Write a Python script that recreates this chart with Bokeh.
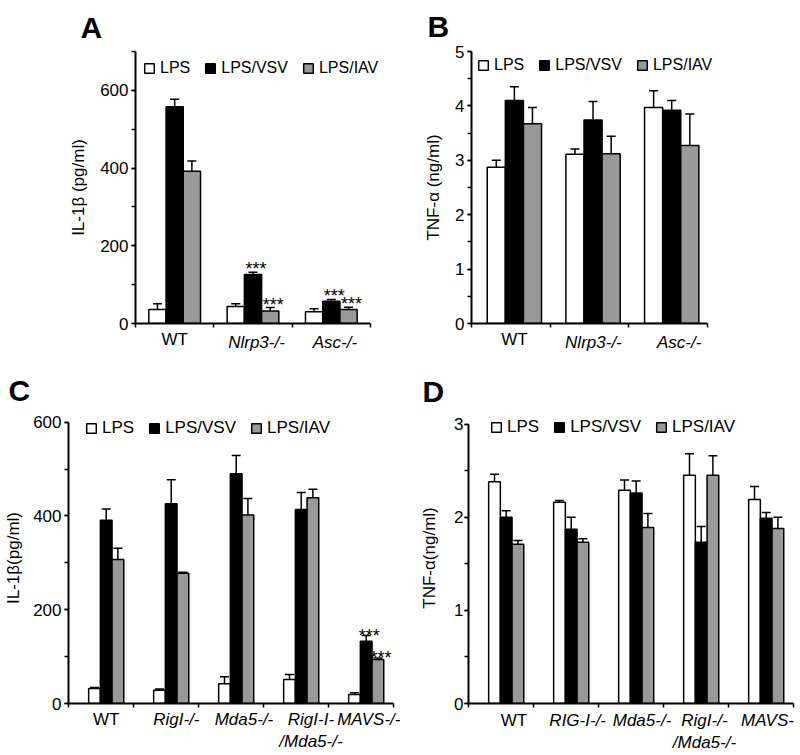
from bokeh.plotting import figure
from bokeh.models import (ColumnDataSource, Whisker, TeeHead, FixedTicker, LinearAxis,
                          SingleIntervalTicker, CustomJSTickFormatter, Range1d)
from bokeh.layouts import column, row
from bokeh.embed import file_html
from bokeh.resources import INLINE

FONT = "Liberation Sans"
SERIES = ["LPS", "LPS/VSV", "LPS/IAV"]
COLORS = ["#ffffff", "#000000", "#999999"]

# ---------------- data ----------------
A_groups = ["WT", "Nlrp3-/-", "Asc-/-"]
A_style = ["normal", "italic", "italic"]
A_lps = [36, 44, 30]
A_lps_err = [15, 7, 8]
A_vsv = [558, 126, 57]
A_vsv_err = [19, 6, 5]
A_iav = [392, 32, 36]
A_iav_err = [26, 9, 6]
A_stars = [(1, 1), (1, 2), (2, 1), (2, 2)]

B_groups = ["WT", "Nlrp3-/-", "Asc-/-"]
B_style = ["normal", "italic", "italic"]
B_lps = [2.87, 3.11, 3.97]
B_lps_err = [0.13, 0.10, 0.31]
B_vsv = [4.10, 3.74, 3.92]
B_vsv_err = [0.25, 0.34, 0.18]
B_iav = [3.67, 3.12, 3.27]
B_iav_err = [0.30, 0.32, 0.58]
B_stars = []

C_groups = ["WT", "RigI-/-", "Mda5-/-", "RigI-I-\n/Mda5-/-", "MAVS-/-"]
C_style = ["normal", "italic", "italic", "italic", "italic"]
C_lps = [32, 28, 42, 51, 19]
C_lps_err = [2, 3, 15, 11, 4]
C_vsv = [391, 426, 490, 414, 133]
C_vsv_err = [24, 51, 39, 36, 12]
C_iav = [307, 278, 402, 439, 94]
C_iav_err = [24, 2, 35, 18, 3]
C_stars = [(4, 1), (4, 2)]

D_groups = ["WT", "RIG-I-/-", "Mda5-/-", "RigI-/-\n/Mda5-/-", "MAVS-"]
D_style = ["normal", "italic", "italic", "italic", "italic"]
D_lps = [2.38, 2.16, 2.29, 2.45, 2.19]
D_lps_err = [0.08, 0.02, 0.11, 0.23, 0.14]
D_vsv = [2.00, 1.87, 2.26, 1.73, 1.99]
D_vsv_err = [0.07, 0.13, 0.13, 0.17, 0.06]
D_iav = [1.71, 1.73, 1.89, 2.45, 1.88]
D_iav_err = [0.04, 0.04, 0.15, 0.21, 0.12]
D_stars = []


def panel(letter, groups, styles, vals, errs, stars, ylabel, ymax, major, *,
          width, height, frame, axis_top, xstart, x_unit, bar_w, bar_shift,
          label_shift, letter_offset, letter_standoff, letter_valign,
          ylabel_standoff, ytick_standoff, legend_loc, legend_font,
          cat_standoff, wt_standoff, star_offset):
    fl, fr, ft, fb = frame
    n = len(groups)
    xend = xstart + (fr - fl) / x_unit
    yend = ymax * (fb - ft) / (fb - axis_top)
    p = figure(width=width, height=height, output_backend="svg", toolbar_location=None,
               x_range=Range1d(xstart, xend), y_range=Range1d(0, yend),
               min_border_left=fl, min_border_right=width - fr,
               min_border_top=ft, min_border_bottom=height - fb)
    p.outline_line_color = None
    p.grid.visible = False
    p.background_fill_color = "white"
    p.border_fill_color = "white"

    # panel letter as title
    p.title.text = letter
    p.title.text_font = FONT
    p.title.text_font_size = "30px"
    p.title.text_font_style = "bold"
    p.title.vertical_align = letter_valign
    p.title.align = "left"
    p.title.offset = letter_offset
    p.title.standoff = letter_standoff
    p.title.text_color = "black"

    # y axis
    ya = p.yaxis[0]
    ya.ticker = SingleIntervalTicker(interval=major, num_minor_ticks=2)
    ya.bounds = (0, ymax)
    ya.axis_line_width = 2
    ya.major_tick_line_width = 1.5
    ya.minor_tick_line_width = 1.5
    ya.major_tick_in = 0
    ya.major_tick_out = 4
    ya.minor_tick_in = 0
    ya.minor_tick_out = 4
    ya.major_label_standoff = ytick_standoff
    ya.major_label_text_font = FONT
    ya.major_label_text_font_size = "17px"
    ya.major_label_text_color = "black"
    ya.axis_label = ylabel
    ya.axis_label_text_font = FONT
    ya.axis_label_text_font_size = "17px"
    ya.axis_label_text_font_style = "normal"
    ya.axis_label_text_color = "black"
    ya.axis_label_standoff = ylabel_standoff

    # x axis: boundary ticks + italic category names
    ital_idx = [i for i in range(n) if styles[i] == "italic"]
    norm_idx = [i for i in range(n) if styles[i] != "italic"]
    boundaries = [xstart + k for k in range(n + 1)]
    xa = p.xaxis[0]
    xa.ticker = FixedTicker(ticks=[i + label_shift[i] for i in ital_idx], minor_ticks=boundaries)
    xa.formatter = CustomJSTickFormatter(args=dict(names=[groups[i] for i in ital_idx]),
                                         code="return names[index]")
    xa.bounds = (xstart, xstart + n)
    xa.axis_line_width = 2
    xa.major_tick_in = 0
    xa.major_tick_out = 0
    xa.major_tick_line_color = None
    xa.minor_tick_line_width = 1.5
    xa.minor_tick_in = 0
    xa.minor_tick_out = 4
    xa.major_label_standoff = cat_standoff
    xa.major_label_text_font = FONT
    xa.major_label_text_font_size = "17px"
    xa.major_label_text_font_style = "italic"
    xa.major_label_text_color = "black"

    # upright category names (WT) on a companion axis drawn at the same height
    xb = LinearAxis(ticker=FixedTicker(ticks=[i + label_shift[i] for i in norm_idx], minor_ticks=[]),
                    formatter=CustomJSTickFormatter(args=dict(names=[groups[i] for i in norm_idx]),
                                                    code="return names[index]"),
                    axis_line_color=None, major_tick_line_color=None, minor_tick_line_color=None,
                    major_tick_out=0, major_tick_in=0, minor_tick_out=0, minor_tick_in=0,
                    major_label_standoff=wt_standoff, major_label_text_font=FONT,
                    major_label_text_font_size="17px", major_label_text_color="black")
    p.add_layout(xb, "below")

    for j, (name, color) in enumerate(zip(SERIES, COLORS)):
        xs = [i + (j - 1) * bar_w + bar_shift for i in range(n)]
        uppers = [v + e for v, e in zip(vals[j], errs[j])]
        src = ColumnDataSource(dict(x=xs, top=vals[j], upper=uppers))
        p.vbar(x="x", top="top", bottom=0, width=bar_w, source=src,
               fill_color=color, line_color="black", line_width=1.5, legend_label=name)
        p.add_layout(Whisker(source=src, base="x", upper="upper", lower="top",
                             dimension="height", line_color="black", line_width=1.5,
                             upper_head=TeeHead(size=9, line_width=1.5, line_color="black"),
                             lower_head=None))

    if stars:
        sx = [g + (s - 1) * bar_w + bar_shift for g, s in stars]
        sy = [vals[s][g] + errs[s][g] for g, s in stars]
        p.text(x=sx, y=sy, text=["***"] * len(stars), text_align="center",
               text_baseline="alphabetic", y_offset=star_offset, x_offset=3,
               text_font_size="18px", text_font={"value": FONT}, text_color="black")

    lg = p.legend[0]
    lg.orientation = "horizontal"
    lg.location = legend_loc
    lg.border_line_color = None
    lg.background_fill_alpha = 0
    lg.padding = 0
    lg.margin = 0
    lg.glyph_width = 12
    lg.glyph_height = 12
    lg.label_standoff = 5
    lg.spacing = 14
    lg.label_text_font = FONT
    lg.label_text_font_size = legend_font
    lg.label_text_color = "black"
    return p


pA = panel("A", A_groups, A_style, [A_lps, A_vsv, A_iav], [A_lps_err, A_vsv_err, A_iav_err],
           A_stars, "IL-1\u03b2 (pg/ml)", 700, 200,
           width=400, height=360, frame=(135, 392, 49, 323), axis_top=49,
           xstart=-0.5, x_unit=78.33, bar_w=0.22, bar_shift=0.0,
           label_shift=[0.0, 0.045, 0.045], letter_offset=-55, letter_standoff=12,
           letter_valign="top",
           ylabel_standoff=9, ytick_standoff=3, legend_loc=(8, 246), legend_font="16px",
           cat_standoff=5, wt_standoff=-25, star_offset=-3)
pB = panel("B", B_groups, B_style, [B_lps, B_vsv, B_iav], [B_lps_err, B_vsv_err, B_iav_err],
           B_stars, "TNF-\u03b1 (ng/ml)", 5, 1,
           width=400, height=360, frame=(71, 325, 51, 323), axis_top=51,
           xstart=-0.5, x_unit=78.67, bar_w=0.23, bar_shift=0.045,
           label_shift=[0.045, 0.05, 0.14], letter_offset=-44, letter_standoff=14,
           letter_valign="top",
           ylabel_standoff=9, ytick_standoff=3, legend_loc=(6, 249), legend_font="16px",
           cat_standoff=5, wt_standoff=-25, star_offset=0)
pC = panel("C", C_groups, C_style, [C_lps, C_vsv, C_iav], [C_lps_err, C_vsv_err, C_iav_err],
           C_stars, "IL-1\u03b2(pg/ml)", 600, 200,
           width=400, height=395, frame=(68, 400, 52, 353), axis_top=62,
           xstart=-0.58, x_unit=65, bar_w=0.18, bar_shift=0.0,
           label_shift=[0.0, 0.08, 0.12, 0.15, 0.12], letter_offset=-60, letter_standoff=12,
           letter_valign="bottom",
           ylabel_standoff=7, ytick_standoff=3, legend_loc=(17, 265), legend_font="17px",
           cat_standoff=2, wt_standoff=-45, star_offset=0)
pD = panel("D", D_groups, D_style, [D_lps, D_vsv, D_iav], [D_lps_err, D_vsv_err, D_iav_err],
           D_stars, "TNF-\u03b1(ng/ml)", 3, 1,
           width=400, height=395, frame=(68, 400, 51, 353), axis_top=63,
           xstart=-0.58, x_unit=65, bar_w=0.18, bar_shift=0.0,
           label_shift=[0.12, 0.1, 0.09, 0.05, 0.02], letter_offset=-46, letter_standoff=9,
           letter_valign="bottom",
           ylabel_standoff=12, ytick_standoff=1, legend_loc=(22, 266), legend_font="17px",
           cat_standoff=3, wt_standoff=-45, star_offset=0)

layout = column(row(pA, pB), row(pC, pD))
open("out.html", "w").write(file_html(layout, INLINE))
